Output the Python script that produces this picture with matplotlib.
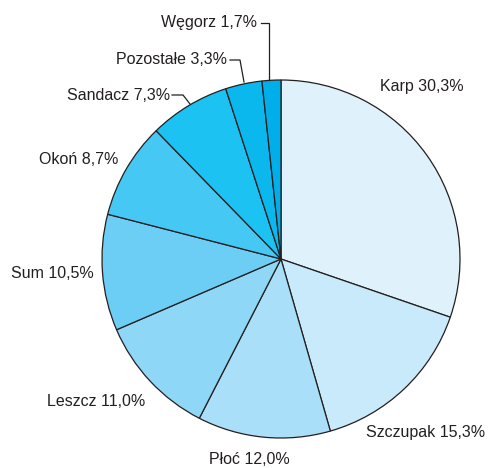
import matplotlib
matplotlib.use("Agg")
import matplotlib.pyplot as plt
from matplotlib import font_manager

names = ["Karp", "Szczupak", "Płoć", "Leszcz", "Sum", "Okoń", "Sandacz", "Pozostałe", "Węgorz"]
values = [30.3, 15.3, 12.0, 11.0, 10.5, 8.7, 7.3, 3.3, 1.7]
labels = ["Karp 30,3%", "Szczupak 15,3%", "Płoć 12,0%", "Leszcz 11,0%", "Sum 10,5%",
          "Okoń 8,7%", "Sandacz 7,3%", "Pozostałe 3,3%", "Węgorz 1,7%"]
colors = ["#dff2fb", "#c9eafa", "#aadff9", "#8fd7f6", "#6ccef5",
          "#45c8f4", "#1cc2f2", "#0bb8ee", "#00afea"]

avail = {f.name for f in font_manager.fontManager.ttflist}
fam = "Liberation Sans Narrow" if "Liberation Sans Narrow" in avail else "Liberation Sans"

W, H = 489, 468
fig = plt.figure(figsize=(W / 100, H / 100), dpi=100)
ax = fig.add_axes([0, 0, 1, 1])
ax.set_xlim(0, W)
ax.set_ylim(0, H)
ax.set_aspect("equal")
ax.axis("off")

cx, cy, r = 281, H - 259, 179
ax.pie(values, colors=colors, startangle=90, counterclock=False, center=(cx, cy), radius=r,
       wedgeprops=dict(edgecolor="#231f20", linewidth=0.9), frame=True)
ax.set_xlim(0, W)
ax.set_ylim(0, H)
ax.axis("off")

tc = "#231f20"
fs = 11.5
# label positions (pixel coords, y from top), alignment
pos = [
    (464, 87, "right"),
    (485, 432, "right"),
    (290, 460, "right"),
    (145, 401, "right"),
    (94, 273, "right"),
    (118, 159, "right"),
    (170, 95, "right"),
    (227, 59, "right"),
    (257, 22, "right"),
]
for lab, (x, y, ha) in zip(labels, pos):
    ax.text(x, H - y, lab, ha=ha, va="center", fontsize=fs, family=fam, color=tc)

# leader lines
lw = 0.9
ax.plot([261, 269, 269], [H - 23, H - 23, H - 80], color=tc, lw=lw)
ax.plot([230, 240, 244], [H - 60, H - 60, H - 82], color=tc, lw=lw)
ax.plot([172, 183, 190], [H - 95, H - 95, H - 104], color=tc, lw=lw)

fig.savefig("out.png", dpi=100)
